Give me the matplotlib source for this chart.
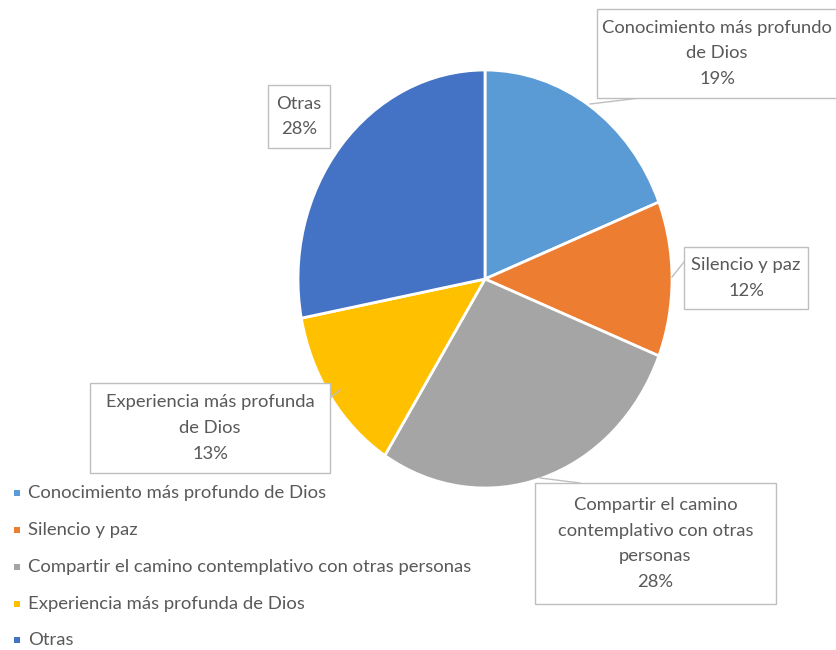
import matplotlib
matplotlib.use("Agg")
import matplotlib.pyplot as plt
from matplotlib.patches import Rectangle

plt.rcParams['font.family'] = ['Lato', 'DejaVu Sans']

categories = ['Conocimiento más profundo de Dios', 'Silencio y paz',
              'Compartir el camino contemplativo con otras personas',
              'Experiencia más profunda de Dios', 'Otras']
values = [19, 12, 28, 13, 28]
box_labels = ['Conocimiento más profundo\nde Dios', 'Silencio y paz',
              'Compartir el camino\ncontemplativo con otras\npersonas',
              'Experiencia más profunda\nde Dios', 'Otras']
colors = ['#5B9BD5', '#ED7D31', '#A5A5A5', '#FFC000', '#4472C4']

W, H = 837, 650
txt_color = '#595959'

fig = plt.figure(figsize=(W / 100, H / 100), dpi=100)

def fx(x):
    return x / W

def fy(y):
    return 1 - y / H

# pie (slightly taller than wide, as in the original)
cx, cy, rx, ry = 485, 279, 187, 209
ax = fig.add_axes([fx(cx - rx), fy(cy + ry), 2 * rx / W, 2 * ry / H])
ax.pie(values, colors=colors, startangle=90, counterclock=False,
       wedgeprops={'edgecolor': 'white', 'linewidth': 2})
ax.set_aspect('auto')
ax.set_xlim(-1, 1)
ax.set_ylim(-1, 1)
ax.axis('off')

# label boxes: x0, y0, x1, y1 in pixels, and leader end on the pie
boxes = [(597, 9, 845, 98), (684, 247, 808, 309), (535, 483, 776, 604),
         (90, 383, 330, 473), (268, 85, 330, 148)]
leaders = [((640, 98), (590, 104)), ((684, 262), (672, 277)),
           ((580, 483), (540, 478)), ((330, 398), (340, 390)), None]

for lab, v, (x0, y0, x1, y1), ld in zip(box_labels, values, boxes, leaders):
    fig.patches.append(Rectangle((fx(x0), fy(y1)), (x1 - x0) / W, (y1 - y0) / H,
                                 transform=fig.transFigure, facecolor='white',
                                 edgecolor='#BFBFBF', linewidth=1, zorder=3))
    fig.text(fx((x0 + min(x1, 837)) / 2), fy((y0 + y1) / 2), lab + '\n' + str(v) + '%',
             ha='center', va='center', fontsize=13.2, color=txt_color,
             linespacing=1.75, zorder=4)
    if ld is not None:
        (a, b), (c, d) = ld
        fig.lines.append(plt.Line2D([fx(a), fx(c)], [fy(b), fy(d)],
                                    transform=fig.transFigure, color='#BFBFBF',
                                    linewidth=1, zorder=2))

# legend
leg_y = [493, 530, 567, 604, 640]
for name, c, y in zip(categories, colors, leg_y):
    fig.patches.append(Rectangle((fx(14), fy(y + 3)), 6 / W, 6 / H,
                                 transform=fig.transFigure, facecolor=c,
                                 edgecolor='none'))
    fig.text(fx(28), fy(y), name, ha='left', va='center', fontsize=13.3,
             color=txt_color)

fig.savefig('out.png', dpi=100, facecolor='white')
